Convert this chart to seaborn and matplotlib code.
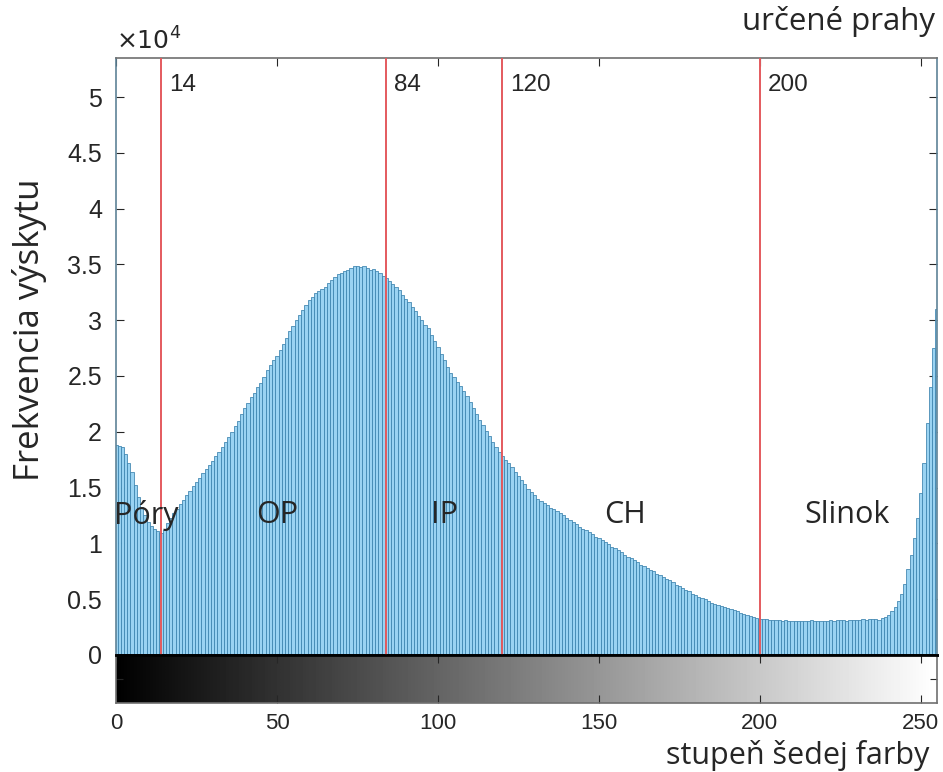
import numpy as np
import pandas as pd
import matplotlib.pyplot as plt
import seaborn as sns

# histogram of gray levels (counts in units of 10^4)
levels = list(range(256))
counts_1e4 = [
    1.88, 1.87, 1.86, 1.80, 1.72, 1.64, 1.52, 1.42, 1.33, 1.25,
    1.19, 1.16, 1.13, 1.11, 1.09, 1.12, 1.18, 1.23, 1.27, 1.31,
    1.35, 1.39, 1.43, 1.47, 1.51, 1.55, 1.59, 1.63, 1.67, 1.70,
    1.74, 1.78, 1.82, 1.86, 1.91, 1.95, 2.00, 2.05, 2.10, 2.16,
    2.21, 2.26, 2.31, 2.35, 2.40, 2.44, 2.49, 2.55, 2.60, 2.64,
    2.68, 2.73, 2.79, 2.84, 2.90, 2.95, 3.00, 3.05, 3.09, 3.14,
    3.18, 3.21, 3.24, 3.26, 3.28, 3.30, 3.33, 3.36, 3.39, 3.41,
    3.42, 3.44, 3.45, 3.47, 3.49, 3.49, 3.48, 3.49, 3.47, 3.45,
    3.46, 3.44, 3.42, 3.40, 3.38, 3.35, 3.32, 3.30, 3.27, 3.23,
    3.19, 3.16, 3.12, 3.08, 3.04, 3.00, 2.96, 2.93, 2.87, 2.81,
    2.76, 2.70, 2.64, 2.58, 2.53, 2.49, 2.45, 2.41, 2.37, 2.32,
    2.27, 2.21, 2.16, 2.11, 2.06, 2.01, 1.96, 1.91, 1.86, 1.82,
    1.78, 1.75, 1.72, 1.68, 1.64, 1.60, 1.57, 1.53, 1.49, 1.46,
    1.43, 1.40, 1.38, 1.36, 1.34, 1.32, 1.31, 1.29, 1.27, 1.25,
    1.23, 1.21, 1.19, 1.17, 1.15, 1.13, 1.12, 1.10, 1.08, 1.06,
    1.05, 1.03, 1.01, 0.99, 0.97, 0.96, 0.94, 0.92, 0.90, 0.88,
    0.87, 0.85, 0.83, 0.81, 0.80, 0.78, 0.76, 0.75, 0.73, 0.72,
    0.70, 0.68, 0.67, 0.65, 0.63, 0.62, 0.60, 0.58, 0.57, 0.55,
    0.54, 0.52, 0.51, 0.50, 0.48, 0.47, 0.46, 0.45, 0.44, 0.43,
    0.42, 0.41, 0.40, 0.39, 0.38, 0.37, 0.36, 0.35, 0.34, 0.33,
    0.32, 0.32, 0.32, 0.31, 0.31, 0.31, 0.31, 0.30, 0.31, 0.30,
    0.30, 0.30, 0.30, 0.30, 0.30, 0.30, 0.31, 0.30, 0.30, 0.30,
    0.30, 0.30, 0.31, 0.30, 0.31, 0.31, 0.31, 0.30, 0.31, 0.31,
    0.31, 0.31, 0.32, 0.31, 0.32, 0.32, 0.32, 0.31, 0.33, 0.34,
    0.36, 0.39, 0.43, 0.48, 0.55, 0.64, 0.77, 0.90, 1.05, 1.23,
    1.45, 1.72, 2.08, 2.40, 2.75, 3.10,
]

thresholds = [14, 84, 120, 200]
regions = ['Póry', 'OP', 'IP', 'CH', 'Slinok']
region_x = [9.5, 50, 102, 158, 227]
yticks = [0, 0.5, 1, 1.5, 2, 2.5, 3, 3.5, 4, 4.5, 5]
ytick_labels = ['0', '0.5', '1', '1.5', '2', '2.5', '3', '3.5', '4', '4.5', '5']
xticks = [0, 50, 100, 150, 200, 250]

sns.set_style('white')
plt.rcParams['font.family'] = ['Liberation Sans', 'DejaVu Sans']
label_font = ['Open Sans', 'DejaVu Sans']

df = pd.DataFrame({'level': levels, 'count': counts_1e4})

fig = plt.figure(figsize=(9.43, 7.72), dpi=100)
ax = fig.add_axes([0.123, 0.1516, 0.8706, 0.7733])
cax = fig.add_axes([0.123, 0.0894, 0.8706, 0.0622])

sns.histplot(data=df, x='level', weights='count', discrete=True, ax=ax,
             color='#9ad3f2', edgecolor='#3a82ad', linewidth=0.55, alpha=1)

for t in thresholds:
    ax.axvline(t, color='#e45a5e', lw=1.4, zorder=3)
    ax.text(t + 2.4, 5.11, str(t), fontsize=17.5, va='center', ha='left')

for name, xr in zip(regions, region_x):
    ax.text(xr, 1.25, name, fontsize=22, va='center', ha='center', family=label_font)

ax.set_xlim(0, 255)
ax.set_ylim(0, 5.35)
ax.set_yticks(yticks)
ax.set_yticklabels(ytick_labels)
ax.set_xticks(xticks)
ax.set_xticklabels([])
ax.set_xlabel('')
ax.set_ylabel('Frekvencia výskytu', fontsize=25, family=label_font)
ax.yaxis.set_label_coords(-0.084, 0.545)
ax.tick_params(axis='y', direction='in', left=True, right=True, length=6,
               labelsize=18, colors='#262626', pad=10)
ax.tick_params(axis='x', direction='in', top=True, bottom=False, length=6)
ax.spines['top'].set_color('#707070')
ax.spines['top'].set_linewidth(1.2)
for side in ['left', 'right']:
    ax.spines[side].set_color('#5f8397')
    ax.spines[side].set_linewidth(1.2)
ax.spines['bottom'].set_color('black')
ax.spines['bottom'].set_linewidth(2)

ax.text(0.0, 1.005, r'$\times10^4$', transform=ax.transAxes, fontsize=18,
        ha='left', va='bottom', color='#262626')
fig.text(0.992, 0.972, 'určené prahy', fontsize=22.5, ha='right', va='center',
         family=label_font)

# gray-level bar under the histogram
cax.imshow(np.array(levels)[None, :], cmap='gray', aspect='auto',
           extent=[0, 255, 0, 1], interpolation='bilinear')
cax.set_xlim(0, 255)
cax.set_ylim(0, 1)
cax.set_xticks(xticks)
cax.set_xticklabels([str(v) for v in xticks])
cax.set_yticks([0.5])
cax.set_yticklabels([])
cax.tick_params(axis='x', direction='in', top=True, bottom=True, length=6,
                labelsize=16, colors='#262626', pad=7)
cax.tick_params(axis='y', direction='in', left=True, right=True, length=5)
for s in cax.spines.values():
    s.set_color('#707070')
    s.set_linewidth(1.2)
cax.spines['top'].set_color('black')
cax.spines['top'].set_linewidth(2)

fig.text(0.986, 0.021, 'stupeň šedej farby', fontsize=22, ha='right', va='center',
         family=label_font)

fig.savefig('out.png', dpi=100)
